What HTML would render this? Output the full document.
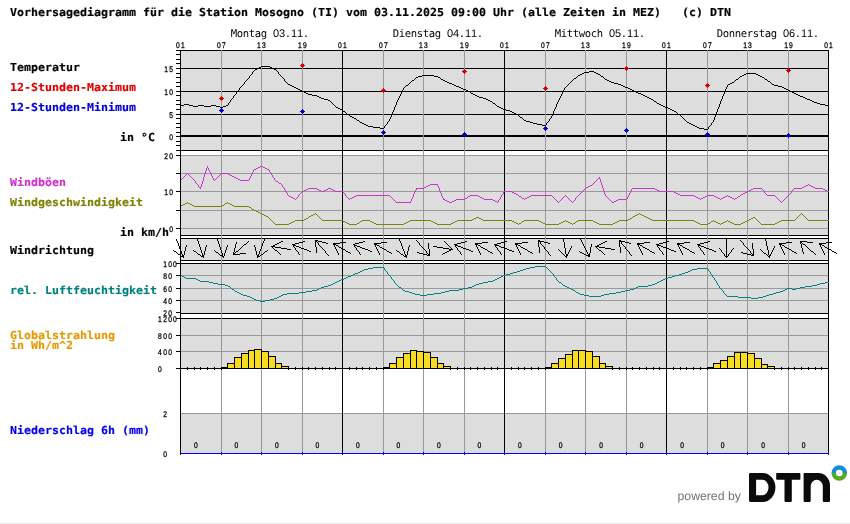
<!DOCTYPE html>
<html lang="de"><head><meta charset="utf-8"><title>Vorhersagediagramm Mosogno (TI)</title>
<style>html,body{margin:0;padding:0;background:#fff}svg{display:block;will-change:transform}</style></head>
<body>
<svg width="850" height="524" viewBox="0 0 850 524" shape-rendering="crispEdges" text-rendering="geometricPrecision">
<rect x="0" y="0" width="850" height="524" fill="#ffffff" />
<rect x="180" y="50" width="649" height="101" fill="#dddddd" />
<rect x="180" y="155" width="649" height="81" fill="#dddddd" />
<rect x="180" y="238" width="649" height="23" fill="#dddddd" />
<rect x="180" y="263" width="649" height="51" fill="#dddddd" />
<rect x="180" y="318" width="649" height="51" fill="#dddddd" />
<rect x="180" y="413" width="649" height="41" fill="#dddddd" />
<rect x="180" y="155" width="649" height="1" fill="#999999" />
<rect x="180" y="173" width="649" height="1" fill="#999999" />
<rect x="180" y="191" width="649" height="1" fill="#999999" />
<rect x="180" y="210" width="649" height="1" fill="#999999" />
<rect x="180" y="228" width="649" height="1" fill="#999999" />
<rect x="180" y="275" width="649" height="1" fill="#999999" />
<rect x="180" y="288" width="649" height="1" fill="#999999" />
<rect x="180" y="300" width="649" height="1" fill="#999999" />
<rect x="180" y="335" width="649" height="1" fill="#999999" />
<rect x="180" y="351" width="649" height="1" fill="#999999" />
<rect x="180" y="413" width="649" height="1" fill="#999999" />
<rect x="176" y="150" width="4" height="1" fill="#000" />
<rect x="176" y="145" width="4" height="1" fill="#000" />
<rect x="176" y="141" width="4" height="1" fill="#000" />
<rect x="176" y="136" width="4" height="1" fill="#000" />
<rect x="176" y="132" width="4" height="1" fill="#000" />
<rect x="176" y="127" width="4" height="1" fill="#000" />
<rect x="176" y="123" width="4" height="1" fill="#000" />
<rect x="176" y="118" width="4" height="1" fill="#000" />
<rect x="176" y="114" width="4" height="1" fill="#000" />
<rect x="176" y="109" width="4" height="1" fill="#000" />
<rect x="176" y="104" width="4" height="1" fill="#000" />
<rect x="176" y="100" width="4" height="1" fill="#000" />
<rect x="176" y="95" width="4" height="1" fill="#000" />
<rect x="176" y="91" width="4" height="1" fill="#000" />
<rect x="176" y="86" width="4" height="1" fill="#000" />
<rect x="176" y="82" width="4" height="1" fill="#000" />
<rect x="176" y="77" width="4" height="1" fill="#000" />
<rect x="176" y="73" width="4" height="1" fill="#000" />
<rect x="176" y="68" width="4" height="1" fill="#000" />
<rect x="176" y="63" width="4" height="1" fill="#000" />
<rect x="176" y="59" width="4" height="1" fill="#000" />
<rect x="176" y="54" width="4" height="1" fill="#000" />
<rect x="176" y="50" width="4" height="1" fill="#000" />
<rect x="176" y="50" width="653" height="1" fill="#000" />
<rect x="176" y="68" width="653" height="1" fill="#000" />
<rect x="176" y="91" width="653" height="1" fill="#000" />
<rect x="176" y="114" width="653" height="1" fill="#000" />
<rect x="180" y="135" width="649" height="2" fill="#000" />
<rect x="176" y="150" width="653" height="1" fill="#000" />
<rect x="176" y="155" width="4" height="1" fill="#000" />
<rect x="176" y="173" width="4" height="1" fill="#000" />
<rect x="176" y="191" width="4" height="1" fill="#000" />
<rect x="176" y="210" width="4" height="1" fill="#000" />
<rect x="176" y="228" width="4" height="1" fill="#000" />
<rect x="180" y="235" width="649" height="1" fill="#000" />
<rect x="180" y="238" width="649" height="1" fill="#000" />
<rect x="180" y="260" width="649" height="1" fill="#000" />
<rect x="176" y="263" width="653" height="1" fill="#000" />
<rect x="176" y="275" width="4" height="1" fill="#000" />
<rect x="176" y="288" width="4" height="1" fill="#000" />
<rect x="176" y="300" width="4" height="1" fill="#000" />
<rect x="176" y="312" width="4" height="1" fill="#000" />
<rect x="180" y="313" width="649" height="1" fill="#000" />
<rect x="176" y="318" width="653" height="1" fill="#000" />
<rect x="176" y="335" width="4" height="1" fill="#000" />
<rect x="176" y="351" width="4" height="1" fill="#000" />
<rect x="221" y="50" width="1" height="404" fill="#999999" />
<rect x="261" y="50" width="1" height="404" fill="#999999" />
<rect x="302" y="50" width="1" height="404" fill="#999999" />
<rect x="383" y="50" width="1" height="404" fill="#999999" />
<rect x="423" y="50" width="1" height="404" fill="#999999" />
<rect x="464" y="50" width="1" height="404" fill="#999999" />
<rect x="545" y="50" width="1" height="404" fill="#999999" />
<rect x="585" y="50" width="1" height="404" fill="#999999" />
<rect x="626" y="50" width="1" height="404" fill="#999999" />
<rect x="707" y="50" width="1" height="404" fill="#999999" />
<rect x="747" y="50" width="1" height="404" fill="#999999" />
<rect x="788" y="50" width="1" height="404" fill="#999999" />
<rect x="180" y="50" width="1" height="404" fill="#000" />
<rect x="342" y="50" width="1" height="404" fill="#000" />
<rect x="504" y="50" width="1" height="404" fill="#000" />
<rect x="666" y="50" width="1" height="404" fill="#000" />
<rect x="828" y="50" width="1" height="404" fill="#000" />
<rect x="221" y="367" width="7" height="2" fill="#000" />
<rect x="227" y="363" width="8" height="6" fill="#000" />
<rect x="228" y="364" width="6" height="4" fill="#f8dc20" />
<rect x="234" y="357" width="8" height="12" fill="#000" />
<rect x="235" y="358" width="6" height="10" fill="#f8dc20" />
<rect x="241" y="353" width="8" height="16" fill="#000" />
<rect x="242" y="354" width="6" height="14" fill="#f8dc20" />
<rect x="248" y="350" width="7" height="19" fill="#000" />
<rect x="249" y="351" width="5" height="17" fill="#f8dc20" />
<rect x="254" y="349" width="8" height="20" fill="#000" />
<rect x="255" y="350" width="6" height="18" fill="#f8dc20" />
<rect x="261" y="351" width="8" height="18" fill="#000" />
<rect x="262" y="352" width="6" height="16" fill="#f8dc20" />
<rect x="268" y="356" width="8" height="13" fill="#000" />
<rect x="269" y="357" width="6" height="11" fill="#f8dc20" />
<rect x="275" y="363" width="7" height="6" fill="#000" />
<rect x="276" y="364" width="5" height="4" fill="#f8dc20" />
<rect x="281" y="366" width="8" height="3" fill="#000" />
<rect x="282" y="367" width="6" height="1" fill="#f8dc20" />
<rect x="383" y="367" width="7" height="2" fill="#000" />
<rect x="389" y="363" width="8" height="6" fill="#000" />
<rect x="390" y="364" width="6" height="4" fill="#f8dc20" />
<rect x="396" y="357" width="8" height="12" fill="#000" />
<rect x="397" y="358" width="6" height="10" fill="#f8dc20" />
<rect x="403" y="353" width="8" height="16" fill="#000" />
<rect x="404" y="354" width="6" height="14" fill="#f8dc20" />
<rect x="410" y="350" width="7" height="19" fill="#000" />
<rect x="411" y="351" width="5" height="17" fill="#f8dc20" />
<rect x="416" y="351" width="8" height="18" fill="#000" />
<rect x="417" y="352" width="6" height="16" fill="#f8dc20" />
<rect x="423" y="352" width="8" height="17" fill="#000" />
<rect x="424" y="353" width="6" height="15" fill="#f8dc20" />
<rect x="430" y="357" width="8" height="12" fill="#000" />
<rect x="431" y="358" width="6" height="10" fill="#f8dc20" />
<rect x="437" y="363" width="7" height="6" fill="#000" />
<rect x="438" y="364" width="5" height="4" fill="#f8dc20" />
<rect x="443" y="366" width="8" height="3" fill="#000" />
<rect x="444" y="367" width="6" height="1" fill="#f8dc20" />
<rect x="545" y="367" width="7" height="2" fill="#000" />
<rect x="551" y="363" width="8" height="6" fill="#000" />
<rect x="552" y="364" width="6" height="4" fill="#f8dc20" />
<rect x="558" y="358" width="8" height="11" fill="#000" />
<rect x="559" y="359" width="6" height="9" fill="#f8dc20" />
<rect x="565" y="354" width="8" height="15" fill="#000" />
<rect x="566" y="355" width="6" height="13" fill="#f8dc20" />
<rect x="572" y="350" width="7" height="19" fill="#000" />
<rect x="573" y="351" width="5" height="17" fill="#f8dc20" />
<rect x="578" y="350" width="8" height="19" fill="#000" />
<rect x="579" y="351" width="6" height="17" fill="#f8dc20" />
<rect x="585" y="351" width="8" height="18" fill="#000" />
<rect x="586" y="352" width="6" height="16" fill="#f8dc20" />
<rect x="592" y="356" width="8" height="13" fill="#000" />
<rect x="593" y="357" width="6" height="11" fill="#f8dc20" />
<rect x="599" y="363" width="7" height="6" fill="#000" />
<rect x="600" y="364" width="5" height="4" fill="#f8dc20" />
<rect x="605" y="366" width="8" height="3" fill="#000" />
<rect x="606" y="367" width="6" height="1" fill="#f8dc20" />
<rect x="707" y="367" width="7" height="2" fill="#000" />
<rect x="713" y="363" width="8" height="6" fill="#000" />
<rect x="714" y="364" width="6" height="4" fill="#f8dc20" />
<rect x="720" y="360" width="8" height="9" fill="#000" />
<rect x="721" y="361" width="6" height="7" fill="#f8dc20" />
<rect x="727" y="356" width="8" height="13" fill="#000" />
<rect x="728" y="357" width="6" height="11" fill="#f8dc20" />
<rect x="734" y="352" width="7" height="17" fill="#000" />
<rect x="735" y="353" width="5" height="15" fill="#f8dc20" />
<rect x="740" y="352" width="8" height="17" fill="#000" />
<rect x="741" y="353" width="6" height="15" fill="#f8dc20" />
<rect x="747" y="353" width="8" height="16" fill="#000" />
<rect x="748" y="354" width="6" height="14" fill="#f8dc20" />
<rect x="754" y="358" width="8" height="11" fill="#000" />
<rect x="755" y="359" width="6" height="9" fill="#f8dc20" />
<rect x="761" y="364" width="7" height="5" fill="#000" />
<rect x="762" y="365" width="5" height="3" fill="#f8dc20" />
<rect x="767" y="366" width="8" height="3" fill="#000" />
<rect x="768" y="367" width="6" height="1" fill="#f8dc20" />
<rect x="176" y="368" width="653" height="1" fill="#000" />
<rect x="180" y="367" width="1" height="3" fill="#000" />
<rect x="187" y="367" width="1" height="3" fill="#000" />
<rect x="194" y="367" width="1" height="3" fill="#000" />
<rect x="200" y="367" width="1" height="3" fill="#000" />
<rect x="207" y="367" width="1" height="3" fill="#000" />
<rect x="214" y="367" width="1" height="3" fill="#000" />
<rect x="221" y="367" width="1" height="3" fill="#000" />
<rect x="288" y="367" width="1" height="3" fill="#000" />
<rect x="295" y="367" width="1" height="3" fill="#000" />
<rect x="302" y="367" width="1" height="3" fill="#000" />
<rect x="308" y="367" width="1" height="3" fill="#000" />
<rect x="315" y="367" width="1" height="3" fill="#000" />
<rect x="322" y="367" width="1" height="3" fill="#000" />
<rect x="329" y="367" width="1" height="3" fill="#000" />
<rect x="335" y="367" width="1" height="3" fill="#000" />
<rect x="342" y="367" width="1" height="3" fill="#000" />
<rect x="349" y="367" width="1" height="3" fill="#000" />
<rect x="356" y="367" width="1" height="3" fill="#000" />
<rect x="362" y="367" width="1" height="3" fill="#000" />
<rect x="369" y="367" width="1" height="3" fill="#000" />
<rect x="376" y="367" width="1" height="3" fill="#000" />
<rect x="383" y="367" width="1" height="3" fill="#000" />
<rect x="450" y="367" width="1" height="3" fill="#000" />
<rect x="457" y="367" width="1" height="3" fill="#000" />
<rect x="464" y="367" width="1" height="3" fill="#000" />
<rect x="470" y="367" width="1" height="3" fill="#000" />
<rect x="477" y="367" width="1" height="3" fill="#000" />
<rect x="484" y="367" width="1" height="3" fill="#000" />
<rect x="491" y="367" width="1" height="3" fill="#000" />
<rect x="497" y="367" width="1" height="3" fill="#000" />
<rect x="504" y="367" width="1" height="3" fill="#000" />
<rect x="511" y="367" width="1" height="3" fill="#000" />
<rect x="518" y="367" width="1" height="3" fill="#000" />
<rect x="524" y="367" width="1" height="3" fill="#000" />
<rect x="531" y="367" width="1" height="3" fill="#000" />
<rect x="538" y="367" width="1" height="3" fill="#000" />
<rect x="545" y="367" width="1" height="3" fill="#000" />
<rect x="612" y="367" width="1" height="3" fill="#000" />
<rect x="619" y="367" width="1" height="3" fill="#000" />
<rect x="626" y="367" width="1" height="3" fill="#000" />
<rect x="632" y="367" width="1" height="3" fill="#000" />
<rect x="639" y="367" width="1" height="3" fill="#000" />
<rect x="646" y="367" width="1" height="3" fill="#000" />
<rect x="653" y="367" width="1" height="3" fill="#000" />
<rect x="659" y="367" width="1" height="3" fill="#000" />
<rect x="666" y="367" width="1" height="3" fill="#000" />
<rect x="673" y="367" width="1" height="3" fill="#000" />
<rect x="680" y="367" width="1" height="3" fill="#000" />
<rect x="686" y="367" width="1" height="3" fill="#000" />
<rect x="693" y="367" width="1" height="3" fill="#000" />
<rect x="700" y="367" width="1" height="3" fill="#000" />
<rect x="707" y="367" width="1" height="3" fill="#000" />
<rect x="774" y="367" width="1" height="3" fill="#000" />
<rect x="781" y="367" width="1" height="3" fill="#000" />
<rect x="788" y="367" width="1" height="3" fill="#000" />
<rect x="794" y="367" width="1" height="3" fill="#000" />
<rect x="801" y="367" width="1" height="3" fill="#000" />
<rect x="808" y="367" width="1" height="3" fill="#000" />
<rect x="815" y="367" width="1" height="3" fill="#000" />
<rect x="821" y="367" width="1" height="3" fill="#000" />
<rect x="828" y="367" width="1" height="3" fill="#000" />
<rect x="180" y="453" width="649" height="1" fill="#0000ff" />
<rect x="180" y="452" width="1" height="3" fill="#0000ff" />
<rect x="221" y="452" width="1" height="3" fill="#0000ff" />
<rect x="261" y="452" width="1" height="3" fill="#0000ff" />
<rect x="302" y="452" width="1" height="3" fill="#0000ff" />
<rect x="342" y="452" width="1" height="3" fill="#0000ff" />
<rect x="383" y="452" width="1" height="3" fill="#0000ff" />
<rect x="423" y="452" width="1" height="3" fill="#0000ff" />
<rect x="464" y="452" width="1" height="3" fill="#0000ff" />
<rect x="504" y="452" width="1" height="3" fill="#0000ff" />
<rect x="545" y="452" width="1" height="3" fill="#0000ff" />
<rect x="585" y="452" width="1" height="3" fill="#0000ff" />
<rect x="626" y="452" width="1" height="3" fill="#0000ff" />
<rect x="666" y="452" width="1" height="3" fill="#0000ff" />
<rect x="707" y="452" width="1" height="3" fill="#0000ff" />
<rect x="747" y="452" width="1" height="3" fill="#0000ff" />
<rect x="788" y="452" width="1" height="3" fill="#0000ff" />
<rect x="828" y="452" width="1" height="3" fill="#0000ff" />
<path d="M261,66.5h9M259,67.5h2M270,67.5h2M257,68.5h2M272,68.5h2M255,69.5h2M274,69.5h2M589,71.5h5M584,72.5h5M594,72.5h2M582,73.5h2M596,73.5h2M746,73.5h10M580,74.5h2M598,74.5h2M744,74.5h2M756,74.5h2M422,75.5h12M578,75.5h2M742,75.5h2M758,75.5h2M418,76.5h4M434,76.5h4M601,76.5h2M740,76.5h2M760,76.5h2M416,77.5h2M438,77.5h2M762,77.5h2M574,78.5h2M441,79.5h2M605,79.5h2M736,79.5h2M765,79.5h2M412,80.5h2M443,80.5h2M607,80.5h2M445,81.5h2M609,81.5h2M768,81.5h2M447,82.5h2M611,82.5h3M732,82.5h2M449,83.5h3M614,83.5h4M730,83.5h2M288,84.5h2M452,84.5h2M618,84.5h3M728,84.5h2M772,84.5h2M290,85.5h2M406,85.5h2M454,85.5h2M621,85.5h2M774,85.5h4M292,86.5h2M456,86.5h3M623,86.5h2M778,86.5h4M294,87.5h2M459,87.5h2M625,87.5h3M782,87.5h2M296,88.5h2M461,88.5h2M628,88.5h2M784,88.5h2M298,89.5h2M463,89.5h3M630,89.5h2M786,89.5h2M300,90.5h2M466,90.5h2M632,90.5h2M788,90.5h2M302,91.5h2M468,91.5h2M634,91.5h2M790,91.5h2M304,92.5h2M636,92.5h2M792,92.5h2M306,93.5h2M471,93.5h2M638,93.5h3M794,93.5h2M308,94.5h4M473,94.5h2M641,94.5h2M796,94.5h2M312,95.5h5M475,95.5h2M643,95.5h2M798,95.5h2M317,96.5h2M477,96.5h2M645,96.5h2M800,96.5h3M319,97.5h2M479,97.5h4M647,97.5h2M803,97.5h2M321,98.5h3M483,98.5h3M649,98.5h2M805,98.5h2M324,99.5h4M486,99.5h2M651,99.5h2M807,99.5h3M328,100.5h2M488,100.5h2M810,100.5h2M490,101.5h2M654,101.5h2M812,101.5h2M814,102.5h3M493,103.5h2M657,103.5h2M817,103.5h3M184,104.5h5M659,104.5h2M820,104.5h5M180,105.5h4M189,105.5h4M198,105.5h6M211,105.5h5M226,105.5h2M661,105.5h2M825,105.5h4M193,106.5h5M204,106.5h7M216,106.5h4M223,106.5h3M497,106.5h2M663,106.5h2M220,107.5h3M336,107.5h2M499,107.5h2M665,107.5h3M338,108.5h2M501,108.5h2M668,108.5h2M340,109.5h2M503,109.5h3M670,109.5h2M506,110.5h4M672,110.5h2M343,111.5h2M510,111.5h2M674,111.5h2M512,112.5h2M514,113.5h2M347,114.5h2M516,114.5h2M678,114.5h2M350,116.5h2M352,117.5h2M520,117.5h2M354,118.5h2M357,120.5h2M524,120.5h2M526,121.5h4M360,122.5h2M530,122.5h3M687,122.5h2M362,123.5h2M533,123.5h4M689,123.5h2M364,124.5h2M537,124.5h5M691,124.5h2M366,125.5h2M542,125.5h4M693,125.5h2M368,126.5h5M695,126.5h2M373,127.5h7M697,127.5h2M380,128.5h4M699,128.5h5M704,129.5h4M228.5,103v2M229.5,102v1M230.5,100v2M231.5,99v1M232.5,98v1M233.5,96v2M234.5,95v1M235.5,94v1M236.5,92v2M237.5,91v1M238.5,90v1M239.5,88v2M240.5,87v1M241.5,86v1M242.5,85v1M243.5,84v1M244.5,82v2M245.5,81v1M246.5,80v1M247.5,79v1M248.5,78v1M249.5,76v2M250.5,75v1M251.5,74v1M252.5,72v2M253.5,71v1M254.5,70v1M276.5,70v1M277.5,71v1M278.5,72v2M279.5,74v1M280.5,75v1M281.5,76v1M282.5,77v1M283.5,78v1M284.5,79v2M285.5,81v1M286.5,82v1M287.5,83v1M330.5,101v1M331.5,102v1M332.5,103v1M333.5,104v1M334.5,105v1M335.5,106v1M342.5,110v1M345.5,112v1M346.5,113v1M349.5,115v1M356.5,119v1M359.5,121v1M384.5,126v2M385.5,125v1M386.5,124v1M387.5,122v2M388.5,121v1M389.5,119v2M390.5,117v2M391.5,114v3M392.5,112v2M393.5,110v2M394.5,107v3M395.5,105v2M396.5,102v3M397.5,100v2M398.5,98v2M399.5,96v2M400.5,94v2M401.5,92v2M402.5,90v2M403.5,88v2M404.5,87v1M405.5,86v1M408.5,84v1M409.5,83v1M410.5,82v1M411.5,81v1M414.5,79v1M415.5,78v1M440.5,78v1M470.5,92v1M492.5,102v1M495.5,104v1M496.5,105v1M518.5,115v1M519.5,116v1M522.5,118v1M523.5,119v1M546.5,123v2M547.5,122v1M548.5,121v1M549.5,119v2M550.5,118v1M551.5,116v2M552.5,114v2M553.5,111v3M554.5,109v2M555.5,107v2M556.5,104v3M557.5,102v2M558.5,100v2M559.5,98v2M560.5,96v2M561.5,94v2M562.5,92v2M563.5,90v2M564.5,88v2M565.5,87v1M566.5,86v1M567.5,85v1M568.5,84v1M569.5,83v1M570.5,82v1M571.5,81v1M572.5,80v1M573.5,79v1M576.5,77v1M577.5,76v1M600.5,75v1M603.5,77v1M604.5,78v1M653.5,100v1M656.5,102v1M676.5,112v1M677.5,113v1M680.5,115v1M681.5,116v1M682.5,117v1M683.5,118v1M684.5,119v1M685.5,120v1M686.5,121v1M708.5,127v2M709.5,126v1M710.5,125v1M711.5,123v2M712.5,122v1M713.5,120v2M714.5,117v3M715.5,115v2M716.5,112v3M717.5,109v3M718.5,107v2M719.5,104v3M720.5,101v3M721.5,99v2M722.5,96v3M723.5,94v2M724.5,92v2M725.5,89v3M726.5,87v2M727.5,85v2M734.5,81v1M735.5,80v1M738.5,78v1M739.5,77v1M764.5,78v1M767.5,80v1M770.5,82v1M771.5,83v1" stroke="#000" stroke-width="1" fill="none"/>
<path d="M260,166.5h3M258,167.5h2M263,167.5h2M256,168.5h2M265,168.5h2M254,169.5h2M267,169.5h2M221,173.5h7M228,174.5h2M230,175.5h2M232,176.5h2M234,177.5h2M236,178.5h2M598,178.5h2M238,179.5h2M240,180.5h9M276,181.5h2M279,183.5h2M430,184.5h8M428,185.5h2M590,185.5h2M806,185.5h2M809,185.5h2M426,186.5h2M588,186.5h2M804,186.5h2M811,186.5h2M199,187.5h2M424,187.5h2M586,187.5h2M802,187.5h2M813,187.5h2M308,188.5h9M328,188.5h3M416,188.5h8M632,188.5h23M753,188.5h9M794,188.5h8M815,188.5h8M306,189.5h2M317,189.5h2M326,189.5h2M331,189.5h2M655,189.5h2M751,189.5h2M823,189.5h2M304,190.5h2M319,190.5h2M324,190.5h2M333,190.5h2M657,190.5h2M749,190.5h2M825,190.5h2M302,191.5h2M321,191.5h3M335,191.5h8M504,191.5h8M659,191.5h15M747,191.5h2M827,191.5h2M512,192.5h2M674,192.5h2M745,192.5h2M514,193.5h2M676,193.5h2M743,193.5h2M516,194.5h2M678,194.5h2M741,194.5h2M356,195.5h34M470,195.5h8M531,195.5h21M680,195.5h14M707,195.5h7M767,195.5h8M289,196.5h2M354,196.5h2M468,196.5h2M478,196.5h2M519,196.5h2M529,196.5h2M694,196.5h2M705,196.5h2M714,196.5h2M725,196.5h2M728,196.5h2M738,196.5h2M291,197.5h2M352,197.5h2M480,197.5h2M527,197.5h2M696,197.5h2M703,197.5h2M716,197.5h2M723,197.5h2M730,197.5h2M293,198.5h2M350,198.5h2M465,198.5h2M482,198.5h2M522,198.5h2M525,198.5h2M698,198.5h2M701,198.5h2M718,198.5h2M721,198.5h2M732,198.5h2M735,198.5h2M443,199.5h2M456,199.5h9M484,199.5h9M618,199.5h9M445,200.5h2M454,200.5h2M493,200.5h2M616,200.5h2M447,201.5h2M452,201.5h2M495,201.5h2M614,201.5h2M396,202.5h15M449,202.5h3M612,202.5h2M180.5,180v1M181.5,179v1M182.5,178v1M183.5,177v1M184.5,176v1M185.5,175v1M186.5,174v1M187.5,173v1M188.5,174v1M189.5,175v1M190.5,176v1M191.5,177v1M192.5,178v1M193.5,179v1M194.5,180v1M195.5,181v2M196.5,183v1M197.5,184v1M198.5,185v2M200.5,188v1M201.5,184v3M202.5,181v3M203.5,177v4M204.5,174v3M205.5,171v3M206.5,168v3M207.5,166v2M208.5,168v2M209.5,170v2M210.5,172v2M211.5,174v2M212.5,176v2M213.5,178v2M214.5,180v1M215.5,179v1M216.5,178v1M217.5,177v1M218.5,176v1M219.5,175v1M220.5,174v1M249.5,178v2M250.5,176v2M251.5,174v2M252.5,172v2M253.5,170v2M269.5,170v2M270.5,172v1M271.5,173v2M272.5,175v2M273.5,177v1M274.5,178v2M275.5,180v1M278.5,182v1M281.5,184v1M282.5,185v2M283.5,187v1M284.5,188v2M285.5,190v2M286.5,192v1M287.5,193v2M288.5,195v1M295.5,199v1M296.5,198v1M297.5,197v1M298.5,195v2M299.5,194v1M300.5,193v1M301.5,192v1M343.5,192v1M344.5,193v1M345.5,194v2M346.5,196v1M347.5,197v1M348.5,198v1M349.5,199v1M390.5,196v1M391.5,197v1M392.5,198v1M393.5,199v1M394.5,200v1M395.5,201v1M410.5,201v1M411.5,199v2M412.5,197v2M413.5,194v3M414.5,192v2M415.5,190v2M416.5,189v1M437.5,185v1M438.5,186v2M439.5,188v3M440.5,191v2M441.5,193v3M442.5,196v2M443.5,198v1M467.5,197v1M497.5,202v1M498.5,200v2M499.5,199v1M500.5,197v2M501.5,195v2M502.5,194v1M503.5,192v2M518.5,195v1M521.5,197v1M524.5,199v1M552.5,196v1M553.5,197v1M554.5,198v1M555.5,199v1M556.5,200v1M557.5,201v1M558.5,202v1M559.5,201v1M560.5,200v1M561.5,199v1M562.5,198v1M563.5,197v1M564.5,196v1M565.5,195v1M566.5,196v1M567.5,197v1M568.5,198v1M569.5,199v1M570.5,200v1M571.5,201v1M572.5,202v1M573.5,201v1M574.5,200v1M575.5,198v2M576.5,197v1M577.5,196v1M578.5,195v1M579.5,194v1M580.5,193v1M581.5,192v1M582.5,191v1M583.5,190v1M584.5,189v1M585.5,188v1M592.5,184v1M593.5,183v1M594.5,182v1M595.5,181v1M596.5,180v1M597.5,179v1M599.5,177v1M600.5,179v3M601.5,182v3M602.5,185v3M603.5,188v3M604.5,191v3M605.5,194v2M606.5,196v1M607.5,197v1M608.5,198v1M609.5,199v1M610.5,200v1M611.5,201v1M627.5,197v2M628.5,195v2M629.5,193v2M630.5,191v2M631.5,189v2M700.5,199v1M720.5,199v1M727.5,195v1M734.5,199v1M737.5,197v1M740.5,195v1M762.5,189v1M763.5,190v1M764.5,191v2M765.5,193v1M766.5,194v1M775.5,196v1M776.5,197v1M777.5,198v1M778.5,199v1M779.5,200v1M780.5,201v1M781.5,202v1M782.5,201v1M783.5,200v1M784.5,199v1M785.5,198v1M786.5,197v1M787.5,196v1M788.5,195v1M789.5,194v1M790.5,193v1M791.5,191v2M792.5,190v1M793.5,189v1M808.5,184v1" stroke="#cc33cc" stroke-width="1" fill="none"/>
<path d="M185,203.5h2M188,203.5h2M225,203.5h2M228,203.5h2M183,204.5h2M190,204.5h2M230,204.5h2M181,205.5h2M192,205.5h2M222,205.5h2M232,205.5h2M194,206.5h28M234,206.5h15M249,207.5h2M252,209.5h2M254,210.5h2M256,211.5h2M258,212.5h2M260,213.5h2M262,214.5h2M313,214.5h2M637,214.5h2M640,214.5h2M264,215.5h2M311,215.5h2M635,215.5h2M642,215.5h2M266,216.5h2M309,216.5h2M633,216.5h2M644,216.5h2M476,217.5h3M646,217.5h2M753,217.5h2M306,218.5h2M474,218.5h2M479,218.5h2M630,218.5h2M648,218.5h2M751,218.5h2M304,219.5h2M472,219.5h2M481,219.5h2M628,219.5h2M650,219.5h2M749,219.5h2M295,220.5h9M322,220.5h21M362,220.5h8M410,220.5h21M457,220.5h15M483,220.5h29M524,220.5h15M578,220.5h15M619,220.5h9M652,220.5h42M747,220.5h2M781,220.5h14M808,220.5h21M293,221.5h2M343,221.5h2M360,221.5h2M370,221.5h2M408,221.5h2M431,221.5h2M455,221.5h2M512,221.5h2M522,221.5h2M539,221.5h2M563,221.5h2M566,221.5h2M576,221.5h2M593,221.5h2M617,221.5h2M694,221.5h2M711,221.5h2M714,221.5h2M725,221.5h2M728,221.5h2M745,221.5h2M779,221.5h2M291,222.5h2M345,222.5h2M372,222.5h2M406,222.5h2M433,222.5h2M453,222.5h2M514,222.5h2M541,222.5h2M561,222.5h2M568,222.5h2M595,222.5h2M615,222.5h2M696,222.5h2M716,222.5h2M723,222.5h2M730,222.5h2M743,222.5h2M777,222.5h2M289,223.5h2M347,223.5h2M357,223.5h2M374,223.5h2M404,223.5h2M435,223.5h2M451,223.5h2M516,223.5h2M519,223.5h2M543,223.5h2M559,223.5h2M570,223.5h2M573,223.5h2M597,223.5h2M613,223.5h2M698,223.5h2M708,223.5h2M718,223.5h2M721,223.5h2M732,223.5h2M741,223.5h2M775,223.5h2M275,224.5h14M349,224.5h8M376,224.5h28M437,224.5h14M545,224.5h14M599,224.5h14M700,224.5h8M734,224.5h7M761,224.5h14M180.5,206v1M187.5,202v1M224.5,204v1M227.5,202v1M251.5,208v1M268.5,217v1M269.5,218v1M270.5,219v1M271.5,220v1M272.5,221v1M273.5,222v1M274.5,223v1M308.5,217v1M315.5,213v1M316.5,214v1M317.5,215v1M318.5,216v1M319.5,217v1M320.5,218v1M321.5,219v1M359.5,222v1M518.5,224v1M521.5,222v1M565.5,220v1M572.5,224v1M575.5,222v1M632.5,217v1M639.5,213v1M710.5,222v1M713.5,220v1M720.5,224v1M727.5,220v1M755.5,218v1M756.5,219v1M757.5,220v1M758.5,221v1M759.5,222v1M760.5,223v1M795.5,219v1M796.5,218v1M797.5,217v1M798.5,216v1M799.5,215v1M800.5,214v1M801.5,213v1M802.5,214v1M803.5,215v1M804.5,216v1M805.5,217v1M806.5,218v1M807.5,219v1" stroke="#808000" stroke-width="1" fill="none"/>
<path d="M535,266.5h11M373,267.5h11M530,267.5h5M368,268.5h5M526,268.5h4M697,268.5h11M364,269.5h4M523,269.5h3M692,269.5h5M362,270.5h2M520,270.5h3M690,270.5h2M360,271.5h2M517,271.5h3M688,271.5h2M358,272.5h2M513,272.5h4M685,272.5h3M355,273.5h3M510,273.5h3M682,273.5h3M353,274.5h2M506,274.5h4M679,274.5h3M180,275.5h2M351,275.5h2M503,275.5h3M675,275.5h4M182,276.5h2M348,276.5h3M501,276.5h2M672,276.5h3M184,277.5h2M346,277.5h2M499,277.5h2M668,277.5h4M186,278.5h10M344,278.5h2M497,278.5h2M665,278.5h3M196,279.5h2M341,279.5h3M495,279.5h2M663,279.5h2M198,280.5h2M339,280.5h2M493,280.5h2M661,280.5h2M200,281.5h9M337,281.5h2M488,281.5h5M659,281.5h2M209,282.5h4M335,282.5h2M483,282.5h5M559,282.5h2M657,282.5h2M825,282.5h4M213,283.5h5M333,283.5h2M479,283.5h4M655,283.5h2M820,283.5h5M218,284.5h7M331,284.5h2M476,284.5h3M652,284.5h3M817,284.5h3M225,285.5h3M328,285.5h3M474,285.5h2M563,285.5h2M648,285.5h4M812,285.5h5M228,286.5h2M324,286.5h4M472,286.5h2M565,286.5h2M638,286.5h10M805,286.5h7M321,287.5h3M399,287.5h2M468,287.5h4M567,287.5h2M636,287.5h2M800,287.5h5M319,288.5h2M463,288.5h5M569,288.5h2M634,288.5h2M787,288.5h5M796,288.5h4M232,289.5h2M317,289.5h2M459,289.5h4M571,289.5h2M630,289.5h4M785,289.5h2M792,289.5h4M312,290.5h5M403,290.5h2M449,290.5h10M573,290.5h2M625,290.5h5M783,290.5h2M235,291.5h2M306,291.5h6M405,291.5h4M445,291.5h4M621,291.5h4M780,291.5h3M237,292.5h2M299,292.5h7M409,292.5h3M441,292.5h4M576,292.5h2M616,292.5h5M776,292.5h4M239,293.5h2M287,293.5h12M412,293.5h3M434,293.5h7M578,293.5h2M609,293.5h7M773,293.5h3M241,294.5h2M283,294.5h4M415,294.5h5M427,294.5h7M580,294.5h4M604,294.5h5M769,294.5h4M243,295.5h4M281,295.5h2M420,295.5h7M584,295.5h5M601,295.5h3M766,295.5h3M247,296.5h3M279,296.5h2M589,296.5h12M727,296.5h11M763,296.5h3M250,297.5h2M277,297.5h2M738,297.5h13M758,297.5h5M252,298.5h2M274,298.5h3M751,298.5h7M254,299.5h2M270,299.5h4M256,300.5h4M265,300.5h5M260,301.5h5M230.5,287v1M231.5,288v1M234.5,290v1M384.5,268v2M385.5,270v1M386.5,271v1M387.5,272v2M388.5,274v1M389.5,275v1M390.5,276v1M391.5,277v2M392.5,279v1M393.5,280v1M394.5,281v2M395.5,283v1M396.5,284v1M397.5,285v1M398.5,286v1M401.5,288v1M402.5,289v1M546.5,267v1M547.5,268v1M548.5,269v1M549.5,270v1M550.5,271v1M551.5,272v1M552.5,273v1M553.5,274v2M554.5,276v1M555.5,277v1M556.5,278v2M557.5,280v1M558.5,281v1M561.5,283v1M562.5,284v1M575.5,291v1M708.5,269v2M709.5,271v1M710.5,272v2M711.5,274v1M712.5,275v2M713.5,277v1M714.5,278v2M715.5,280v1M716.5,281v2M717.5,283v2M718.5,285v1M719.5,286v2M720.5,288v1M721.5,289v1M722.5,290v1M723.5,291v2M724.5,293v1M725.5,294v1M726.5,295v1" stroke="#008080" stroke-width="1" fill="none"/>
<rect x="221" y="96" width="1" height="1" fill="#dd0000" />
<rect x="220" y="97" width="3" height="1" fill="#dd0000" />
<rect x="219" y="98" width="5" height="1" fill="#dd0000" />
<rect x="220" y="99" width="3" height="1" fill="#dd0000" />
<rect x="221" y="100" width="1" height="1" fill="#dd0000" />
<rect x="302" y="63" width="1" height="1" fill="#dd0000" />
<rect x="301" y="64" width="3" height="1" fill="#dd0000" />
<rect x="300" y="65" width="5" height="1" fill="#dd0000" />
<rect x="301" y="66" width="3" height="1" fill="#dd0000" />
<rect x="302" y="67" width="1" height="1" fill="#dd0000" />
<rect x="383" y="88" width="1" height="1" fill="#dd0000" />
<rect x="382" y="89" width="3" height="1" fill="#dd0000" />
<rect x="381" y="90" width="5" height="1" fill="#dd0000" />
<rect x="382" y="91" width="3" height="1" fill="#dd0000" />
<rect x="383" y="92" width="1" height="1" fill="#dd0000" />
<rect x="464" y="69" width="1" height="1" fill="#dd0000" />
<rect x="463" y="70" width="3" height="1" fill="#dd0000" />
<rect x="462" y="71" width="5" height="1" fill="#dd0000" />
<rect x="463" y="72" width="3" height="1" fill="#dd0000" />
<rect x="464" y="73" width="1" height="1" fill="#dd0000" />
<rect x="545" y="86" width="1" height="1" fill="#dd0000" />
<rect x="544" y="87" width="3" height="1" fill="#dd0000" />
<rect x="543" y="88" width="5" height="1" fill="#dd0000" />
<rect x="544" y="89" width="3" height="1" fill="#dd0000" />
<rect x="545" y="90" width="1" height="1" fill="#dd0000" />
<rect x="626" y="66" width="1" height="1" fill="#dd0000" />
<rect x="625" y="67" width="3" height="1" fill="#dd0000" />
<rect x="624" y="68" width="5" height="1" fill="#dd0000" />
<rect x="625" y="69" width="3" height="1" fill="#dd0000" />
<rect x="626" y="70" width="1" height="1" fill="#dd0000" />
<rect x="707" y="83" width="1" height="1" fill="#dd0000" />
<rect x="706" y="84" width="3" height="1" fill="#dd0000" />
<rect x="705" y="85" width="5" height="1" fill="#dd0000" />
<rect x="706" y="86" width="3" height="1" fill="#dd0000" />
<rect x="707" y="87" width="1" height="1" fill="#dd0000" />
<rect x="788" y="68" width="1" height="1" fill="#dd0000" />
<rect x="787" y="69" width="3" height="1" fill="#dd0000" />
<rect x="786" y="70" width="5" height="1" fill="#dd0000" />
<rect x="787" y="71" width="3" height="1" fill="#dd0000" />
<rect x="788" y="72" width="1" height="1" fill="#dd0000" />
<rect x="221" y="108" width="1" height="1" fill="#0000d8" />
<rect x="220" y="109" width="3" height="1" fill="#0000d8" />
<rect x="219" y="110" width="5" height="1" fill="#0000d8" />
<rect x="220" y="111" width="3" height="1" fill="#0000d8" />
<rect x="221" y="112" width="1" height="1" fill="#0000d8" />
<rect x="302" y="109" width="1" height="1" fill="#0000d8" />
<rect x="301" y="110" width="3" height="1" fill="#0000d8" />
<rect x="300" y="111" width="5" height="1" fill="#0000d8" />
<rect x="301" y="112" width="3" height="1" fill="#0000d8" />
<rect x="302" y="113" width="1" height="1" fill="#0000d8" />
<rect x="383" y="130" width="1" height="1" fill="#0000d8" />
<rect x="382" y="131" width="3" height="1" fill="#0000d8" />
<rect x="381" y="132" width="5" height="1" fill="#0000d8" />
<rect x="382" y="133" width="3" height="1" fill="#0000d8" />
<rect x="383" y="134" width="1" height="1" fill="#0000d8" />
<rect x="464" y="132" width="1" height="1" fill="#0000d8" />
<rect x="463" y="133" width="3" height="1" fill="#0000d8" />
<rect x="462" y="134" width="5" height="1" fill="#0000d8" />
<rect x="463" y="135" width="3" height="1" fill="#0000d8" />
<rect x="464" y="136" width="1" height="1" fill="#0000d8" />
<rect x="545" y="126" width="1" height="1" fill="#0000d8" />
<rect x="544" y="127" width="3" height="1" fill="#0000d8" />
<rect x="543" y="128" width="5" height="1" fill="#0000d8" />
<rect x="544" y="129" width="3" height="1" fill="#0000d8" />
<rect x="545" y="130" width="1" height="1" fill="#0000d8" />
<rect x="626" y="128" width="1" height="1" fill="#0000d8" />
<rect x="625" y="129" width="3" height="1" fill="#0000d8" />
<rect x="624" y="130" width="5" height="1" fill="#0000d8" />
<rect x="625" y="131" width="3" height="1" fill="#0000d8" />
<rect x="626" y="132" width="1" height="1" fill="#0000d8" />
<rect x="707" y="132" width="1" height="1" fill="#0000d8" />
<rect x="706" y="133" width="3" height="1" fill="#0000d8" />
<rect x="705" y="134" width="5" height="1" fill="#0000d8" />
<rect x="706" y="135" width="3" height="1" fill="#0000d8" />
<rect x="707" y="136" width="1" height="1" fill="#0000d8" />
<rect x="788" y="133" width="1" height="1" fill="#0000d8" />
<rect x="787" y="134" width="3" height="1" fill="#0000d8" />
<rect x="786" y="135" width="5" height="1" fill="#0000d8" />
<rect x="787" y="136" width="3" height="1" fill="#0000d8" />
<rect x="788" y="137" width="1" height="1" fill="#0000d8" />
<path d="M315,240.5h3M538,240.5h2M619,240.5h2M281,241.5h2M303,241.5h2M315,241.5h2M318,241.5h4M363,241.5h2M465,241.5h2M505,241.5h2M538,241.5h6M605,241.5h2M619,241.5h6M667,241.5h2M708,241.5h2M800,241.5h7M279,242.5h2M299,242.5h4M322,242.5h4M340,242.5h6M359,242.5h4M381,242.5h6M461,242.5h4M482,242.5h6M501,242.5h4M522,242.5h6M544,242.5h4M603,242.5h2M625,242.5h4M644,242.5h6M663,242.5h4M684,242.5h6M704,242.5h4M786,242.5h6M800,242.5h2M807,242.5h6M826,242.5h6M277,243.5h2M295,243.5h4M326,243.5h2M333,243.5h7M355,243.5h4M374,243.5h7M457,243.5h4M475,243.5h7M497,243.5h4M515,243.5h7M548,243.5h2M601,243.5h2M629,243.5h2M637,243.5h7M659,243.5h4M677,243.5h7M700,243.5h4M779,243.5h7M819,243.5h7M244,244.5h2M275,244.5h2M292,244.5h3M333,244.5h3M353,244.5h2M374,244.5h3M454,244.5h3M475,244.5h3M494,244.5h3M515,244.5h3M599,244.5h2M637,244.5h3M656,244.5h3M677,244.5h3M697,244.5h3M779,244.5h3M803,244.5h2M819,244.5h3M273,245.5h2M293,245.5h3M336,245.5h2M354,245.5h3M377,245.5h2M455,245.5h3M478,245.5h2M495,245.5h4M518,245.5h2M597,245.5h2M640,245.5h2M657,245.5h4M680,245.5h2M698,245.5h3M782,245.5h2M822,245.5h2M271,246.5h4M296,246.5h3M357,246.5h3M433,246.5h4M458,246.5h3M499,246.5h2M595,246.5h4M661,246.5h2M701,246.5h3M275,247.5h6M299,247.5h2M339,247.5h2M360,247.5h2M380,247.5h2M437,247.5h6M461,247.5h2M481,247.5h2M501,247.5h3M521,247.5h2M599,247.5h6M643,247.5h2M663,247.5h3M683,247.5h2M704,247.5h2M785,247.5h2M825,247.5h2M281,248.5h6M301,248.5h3M341,248.5h2M362,248.5h3M382,248.5h2M443,248.5h6M463,248.5h3M483,248.5h2M504,248.5h3M523,248.5h2M605,248.5h6M645,248.5h2M666,248.5h3M685,248.5h2M706,248.5h3M787,248.5h2M827,248.5h2M287,249.5h4M304,249.5h3M343,249.5h2M365,249.5h3M384,249.5h2M449,249.5h4M466,249.5h3M485,249.5h2M507,249.5h2M525,249.5h2M611,249.5h4M647,249.5h2M669,249.5h2M687,249.5h2M709,249.5h3M789,249.5h2M829,249.5h2M275,250.5h2M307,250.5h2M368,250.5h2M449,250.5h2M469,250.5h2M509,250.5h3M599,250.5h2M671,250.5h3M712,250.5h2M174,251.5h2M194,251.5h2M236,251.5h2M265,251.5h2M309,251.5h2M346,251.5h2M370,251.5h2M387,251.5h2M397,251.5h2M447,251.5h2M471,251.5h2M488,251.5h2M512,251.5h2M528,251.5h2M650,251.5h2M674,251.5h2M690,251.5h2M714,251.5h2M792,251.5h2M811,251.5h2M832,251.5h2M216,252.5h2M348,252.5h2M389,252.5h2M417,252.5h2M445,252.5h2M490,252.5h2M530,252.5h2M580,252.5h2M652,252.5h2M692,252.5h2M741,252.5h2M794,252.5h2M834,252.5h2M233,253.5h2M240,253.5h6M419,253.5h4M443,253.5h2M582,253.5h2M743,253.5h4M764,253.5h2M178,254.5h2M198,254.5h2M233,254.5h7M261,254.5h2M401,254.5h2M423,254.5h4M428,254.5h2M566,254.5h2M584,254.5h2M588,254.5h2M747,254.5h4M752,254.5h2M182,255.5h2M202,255.5h2M220,255.5h3M257,255.5h2M405,255.5h2M427,255.5h3M566,255.5h2M586,255.5h4M751,255.5h3M769,255.5h2M181,256.5h3M201,256.5h3M222,256.5h2M257,256.5h3M404,256.5h3M565,256.5h2M588,256.5h2M725,256.5h3M768,256.5h2M173.5,250v1M176.5,239v2M176.5,252v1M177.5,241v2M177.5,253v1M178.5,243v3M179.5,246v3M180.5,249v2M180.5,255v1M181.5,251v3M182.5,254v1M183.5,257v1M184.5,251v4M185.5,247v4M186.5,245v2M193.5,250v1M196.5,252v1M197.5,239v2M197.5,253v1M198.5,241v3M199.5,244v3M200.5,247v3M200.5,255v1M201.5,250v3M202.5,253v2M203.5,257v1M204.5,251v4M205.5,247v4M206.5,245v2M214.5,250v1M215.5,251v1M217.5,239v2M218.5,241v3M218.5,253v1M219.5,244v3M219.5,254v1M220.5,247v3M221.5,250v3M222.5,253v2M223.5,257v1M224.5,253v3M225.5,250v3M226.5,247v3M227.5,245v2M233.5,252v1M234.5,248v4M235.5,244v4M235.5,252v1M236.5,242v2M238.5,250v1M239.5,249v1M240.5,248v1M241.5,247v1M242.5,246v1M243.5,245v1M246.5,243v1M247.5,242v1M248.5,241v1M254.5,245v2M255.5,247v4M256.5,251v4M257.5,257v1M258.5,254v1M259.5,251v3M260.5,249v2M260.5,255v1M261.5,246v3M262.5,243v3M263.5,241v2M263.5,253v1M264.5,239v2M264.5,252v1M267.5,250v1M272.5,247v1M273.5,248v1M274.5,249v1M277.5,251v1M278.5,252v1M279.5,253v1M280.5,254v1M293.5,246v1M294.5,247v1M295.5,248v2M296.5,250v1M297.5,251v1M298.5,252v2M299.5,254v1M315.5,242v5M316.5,247v6M317.5,242v1M318.5,243v2M319.5,245v1M320.5,246v1M321.5,247v1M322.5,248v1M323.5,249v1M324.5,250v1M325.5,251v2M326.5,253v1M327.5,254v1M328.5,255v1M334.5,245v2M335.5,247v2M336.5,249v2M337.5,251v2M338.5,246v1M338.5,253v2M345.5,250v1M350.5,253v1M354.5,246v1M355.5,247v1M356.5,248v2M357.5,250v1M358.5,251v1M359.5,252v2M360.5,254v1M375.5,245v2M376.5,247v2M377.5,249v2M378.5,251v2M379.5,246v1M379.5,253v2M386.5,250v1M391.5,253v1M396.5,250v1M399.5,239v2M399.5,252v1M400.5,241v2M400.5,253v1M401.5,243v3M402.5,246v3M403.5,249v2M403.5,255v1M404.5,251v3M405.5,254v1M406.5,257v1M407.5,251v4M408.5,247v4M409.5,245v2M416.5,240v1M417.5,241v1M418.5,242v1M419.5,243v2M420.5,245v1M421.5,246v1M422.5,247v1M423.5,248v1M424.5,249v1M425.5,250v1M426.5,251v2M427.5,253v1M428.5,243v6M429.5,249v5M442.5,254v1M444.5,241v1M445.5,242v1M446.5,243v1M447.5,244v1M448.5,245v1M449.5,246v1M450.5,247v1M451.5,248v1M455.5,246v1M456.5,247v1M457.5,248v2M458.5,250v1M459.5,251v1M460.5,252v2M461.5,254v1M476.5,245v2M477.5,247v2M478.5,249v2M479.5,251v2M480.5,246v1M480.5,253v2M487.5,250v1M492.5,253v1M495.5,246v1M496.5,247v1M497.5,248v2M498.5,250v1M499.5,251v1M500.5,252v2M501.5,254v1M516.5,245v2M517.5,247v2M518.5,249v2M519.5,251v2M520.5,246v1M520.5,253v2M527.5,250v1M532.5,253v1M538.5,242v5M539.5,247v6M540.5,242v2M541.5,244v1M542.5,245v1M543.5,246v1M544.5,247v2M545.5,249v1M546.5,250v1M547.5,251v1M548.5,252v2M549.5,254v1M550.5,255v1M558.5,249v1M559.5,250v1M560.5,251v1M561.5,252v1M562.5,253v1M563.5,238v4M563.5,254v1M564.5,242v6M564.5,255v1M565.5,248v6M566.5,257v1M568.5,252v2M569.5,250v2M570.5,248v2M571.5,246v2M579.5,251v1M580.5,239v1M581.5,240v2M582.5,242v2M583.5,244v2M584.5,246v2M585.5,248v2M586.5,250v2M587.5,252v2M589.5,253v1M590.5,247v6M591.5,244v3M596.5,247v1M597.5,248v1M598.5,249v1M601.5,251v1M602.5,252v1M603.5,253v1M604.5,254v1M619.5,242v5M620.5,247v6M621.5,242v2M622.5,244v1M623.5,245v1M624.5,246v1M625.5,247v2M626.5,249v1M627.5,250v1M628.5,251v1M629.5,252v2M630.5,254v1M631.5,255v1M638.5,245v2M639.5,247v2M640.5,249v2M641.5,251v2M642.5,246v1M642.5,253v2M649.5,250v1M654.5,253v1M657.5,246v1M658.5,247v1M659.5,248v2M660.5,250v1M661.5,251v1M662.5,252v2M663.5,254v1M678.5,245v2M679.5,247v2M680.5,249v2M681.5,251v2M682.5,246v1M682.5,253v2M689.5,250v1M694.5,253v1M698.5,246v1M699.5,247v1M700.5,248v2M701.5,250v1M702.5,251v1M703.5,252v2M704.5,254v1M719.5,248v1M720.5,249v1M721.5,250v2M722.5,252v1M723.5,253v1M724.5,254v2M726.5,238v18M726.5,257v1M728.5,254v2M729.5,253v1M730.5,252v1M731.5,250v2M732.5,249v1M733.5,248v1M740.5,240v1M741.5,241v1M742.5,242v1M743.5,243v2M744.5,245v1M745.5,246v1M746.5,247v1M747.5,248v1M748.5,249v1M749.5,250v1M750.5,251v2M751.5,253v1M752.5,243v6M753.5,249v5M760.5,249v1M761.5,250v1M762.5,251v1M763.5,252v1M765.5,238v3M766.5,241v5M766.5,254v1M767.5,246v4M767.5,255v1M768.5,250v5M769.5,257v1M770.5,254v1M771.5,252v2M772.5,250v2M773.5,248v2M774.5,246v2M780.5,245v2M781.5,247v2M782.5,249v2M783.5,251v2M784.5,246v1M784.5,253v2M791.5,250v1M796.5,253v1M800.5,243v1M801.5,244v4M802.5,243v1M802.5,248v4M803.5,252v2M805.5,245v1M806.5,246v1M807.5,247v1M808.5,248v1M809.5,249v1M810.5,250v1M813.5,252v1M814.5,253v1M815.5,254v1M820.5,245v2M821.5,247v2M822.5,249v2M823.5,251v2M824.5,246v1M824.5,253v2M831.5,250v1M836.5,253v1" stroke="#000" stroke-width="1" fill="none"/>
<rect x="180" y="50" width="1" height="404" fill="#000" />
<g opacity="0.999">
<text x="10" y="16" font-family="'DejaVu Sans Mono','Liberation Mono',monospace" font-size="11" fill="#000" text-anchor="start" font-weight="bold" textLength="721" lengthAdjust="spacingAndGlyphs" xml:space="preserve" style="white-space:pre" stroke="#000" stroke-width="0.18">Vorhersagediagramm für die Station Mosogno (TI) vom 03.11.2025 09:00 Uhr (alle Zeiten in MEZ)   (c) DTN</text>
<text x="10" y="71" font-family="'DejaVu Sans Mono','Liberation Mono',monospace" font-size="11" fill="#000" text-anchor="start" font-weight="bold" textLength="70" lengthAdjust="spacingAndGlyphs" xml:space="preserve" style="white-space:pre" stroke="#000" stroke-width="0.15">Temperatur</text>
<text x="10" y="91" font-family="'DejaVu Sans Mono','Liberation Mono',monospace" font-size="11" fill="#dd0000" text-anchor="start" font-weight="bold" textLength="126" lengthAdjust="spacingAndGlyphs" xml:space="preserve" style="white-space:pre" stroke="#dd0000" stroke-width="0.15">12-Stunden-Maximum</text>
<text x="10" y="111" font-family="'DejaVu Sans Mono','Liberation Mono',monospace" font-size="11" fill="#0000d8" text-anchor="start" font-weight="bold" textLength="126" lengthAdjust="spacingAndGlyphs" xml:space="preserve" style="white-space:pre" stroke="#0000d8" stroke-width="0.15">12-Stunden-Minimum</text>
<text x="120" y="141" font-family="'DejaVu Sans Mono','Liberation Mono',monospace" font-size="11" fill="#000" text-anchor="start" font-weight="bold" textLength="35" lengthAdjust="spacingAndGlyphs" xml:space="preserve" style="white-space:pre" stroke="#000" stroke-width="0.15">in °C</text>
<text x="10" y="186" font-family="'DejaVu Sans Mono','Liberation Mono',monospace" font-size="11" fill="#cc33cc" text-anchor="start" font-weight="bold" textLength="56" lengthAdjust="spacingAndGlyphs" xml:space="preserve" style="white-space:pre" stroke="#cc33cc" stroke-width="0.15">Windböen</text>
<text x="10" y="206" font-family="'DejaVu Sans Mono','Liberation Mono',monospace" font-size="11" fill="#808000" text-anchor="start" font-weight="bold" textLength="133" lengthAdjust="spacingAndGlyphs" xml:space="preserve" style="white-space:pre" stroke="#808000" stroke-width="0.15">Windgeschwindigkeit</text>
<text x="120" y="236" font-family="'DejaVu Sans Mono','Liberation Mono',monospace" font-size="11" fill="#000" text-anchor="start" font-weight="bold" textLength="49" lengthAdjust="spacingAndGlyphs" xml:space="preserve" style="white-space:pre" stroke="#000" stroke-width="0.15">in km/h</text>
<text x="10" y="254" font-family="'DejaVu Sans Mono','Liberation Mono',monospace" font-size="11" fill="#000" text-anchor="start" font-weight="bold" textLength="84" lengthAdjust="spacingAndGlyphs" xml:space="preserve" style="white-space:pre" stroke="#000" stroke-width="0.15">Windrichtung</text>
<text x="10" y="294" font-family="'DejaVu Sans Mono','Liberation Mono',monospace" font-size="11" fill="#008080" text-anchor="start" font-weight="bold" textLength="147" lengthAdjust="spacingAndGlyphs" xml:space="preserve" style="white-space:pre" stroke="#008080" stroke-width="0.15">rel. Luftfeuchtigkeit</text>
<text x="10" y="339" font-family="'DejaVu Sans Mono','Liberation Mono',monospace" font-size="11" fill="#e69800" text-anchor="start" font-weight="bold" textLength="105" lengthAdjust="spacingAndGlyphs" xml:space="preserve" style="white-space:pre" stroke="#e69800" stroke-width="0.15">Globalstrahlung</text>
<text x="10" y="349" font-family="'DejaVu Sans Mono','Liberation Mono',monospace" font-size="11" fill="#e69800" text-anchor="start" font-weight="bold" textLength="63" lengthAdjust="spacingAndGlyphs" xml:space="preserve" style="white-space:pre" stroke="#e69800" stroke-width="0.15">in Wh/m^2</text>
<text x="10" y="434" font-family="'DejaVu Sans Mono','Liberation Mono',monospace" font-size="11" fill="#0000ee" text-anchor="start" font-weight="bold" textLength="140" lengthAdjust="spacingAndGlyphs" xml:space="preserve" style="white-space:pre" stroke="#0000ee" stroke-width="0.15">Niederschlag 6h (mm)</text>
<text x="234 240 246 252 258 264 270 276 282 288 294 300 306" y="37" text-anchor="middle" font-family="'DejaVu Sans Mono','Liberation Mono',monospace" font-size="10.6" fill="#000" xml:space="preserve">Montag <tspan font-family="'Liberation Sans',sans-serif" font-size="11">0</tspan><tspan font-family="'Liberation Sans',sans-serif" font-size="11">3</tspan>.<tspan font-family="'Liberation Sans',sans-serif" font-size="11">1</tspan><tspan font-family="'Liberation Sans',sans-serif" font-size="11">1</tspan>.</text>
<text x="396 402 408 414 420 426 432 438 444 450 456 462 468 474 480" y="37" text-anchor="middle" font-family="'DejaVu Sans Mono','Liberation Mono',monospace" font-size="10.6" fill="#000" xml:space="preserve">Dienstag <tspan font-family="'Liberation Sans',sans-serif" font-size="11">0</tspan><tspan font-family="'Liberation Sans',sans-serif" font-size="11">4</tspan>.<tspan font-family="'Liberation Sans',sans-serif" font-size="11">1</tspan><tspan font-family="'Liberation Sans',sans-serif" font-size="11">1</tspan>.</text>
<text x="558 564 570 576 582 588 594 600 606 612 618 624 630 636 642" y="37" text-anchor="middle" font-family="'DejaVu Sans Mono','Liberation Mono',monospace" font-size="10.6" fill="#000" xml:space="preserve">Mittwoch <tspan font-family="'Liberation Sans',sans-serif" font-size="11">0</tspan><tspan font-family="'Liberation Sans',sans-serif" font-size="11">5</tspan>.<tspan font-family="'Liberation Sans',sans-serif" font-size="11">1</tspan><tspan font-family="'Liberation Sans',sans-serif" font-size="11">1</tspan>.</text>
<text x="720 726 732 738 744 750 756 762 768 774 780 786 792 798 804 810 816" y="37" text-anchor="middle" font-family="'DejaVu Sans Mono','Liberation Mono',monospace" font-size="10.6" fill="#000" xml:space="preserve">Donnerstag <tspan font-family="'Liberation Sans',sans-serif" font-size="11">0</tspan><tspan font-family="'Liberation Sans',sans-serif" font-size="11">6</tspan>.<tspan font-family="'Liberation Sans',sans-serif" font-size="11">1</tspan><tspan font-family="'Liberation Sans',sans-serif" font-size="11">1</tspan>.</text>
<text transform="scale(0.82,1)" x="217.07 223.17" y="47.6" text-anchor="middle" font-family="'Liberation Sans','DejaVu Sans',sans-serif" font-size="8.2" fill="#000" stroke="#000" stroke-width="0.3">01</text>
<text transform="scale(0.82,1)" x="267.07 273.17" y="47.6" text-anchor="middle" font-family="'Liberation Sans','DejaVu Sans',sans-serif" font-size="8.2" fill="#000" stroke="#000" stroke-width="0.3">07</text>
<text transform="scale(0.82,1)" x="315.85 321.95" y="47.6" text-anchor="middle" font-family="'Liberation Sans','DejaVu Sans',sans-serif" font-size="8.2" fill="#000" stroke="#000" stroke-width="0.3">13</text>
<text transform="scale(0.82,1)" x="365.85 371.95" y="47.6" text-anchor="middle" font-family="'Liberation Sans','DejaVu Sans',sans-serif" font-size="8.2" fill="#000" stroke="#000" stroke-width="0.3">19</text>
<text transform="scale(0.82,1)" x="414.63 420.73" y="47.6" text-anchor="middle" font-family="'Liberation Sans','DejaVu Sans',sans-serif" font-size="8.2" fill="#000" stroke="#000" stroke-width="0.3">01</text>
<text transform="scale(0.82,1)" x="464.63 470.73" y="47.6" text-anchor="middle" font-family="'Liberation Sans','DejaVu Sans',sans-serif" font-size="8.2" fill="#000" stroke="#000" stroke-width="0.3">07</text>
<text transform="scale(0.82,1)" x="513.41 519.51" y="47.6" text-anchor="middle" font-family="'Liberation Sans','DejaVu Sans',sans-serif" font-size="8.2" fill="#000" stroke="#000" stroke-width="0.3">13</text>
<text transform="scale(0.82,1)" x="563.41 569.51" y="47.6" text-anchor="middle" font-family="'Liberation Sans','DejaVu Sans',sans-serif" font-size="8.2" fill="#000" stroke="#000" stroke-width="0.3">19</text>
<text transform="scale(0.82,1)" x="612.20 618.29" y="47.6" text-anchor="middle" font-family="'Liberation Sans','DejaVu Sans',sans-serif" font-size="8.2" fill="#000" stroke="#000" stroke-width="0.3">01</text>
<text transform="scale(0.82,1)" x="662.20 668.29" y="47.6" text-anchor="middle" font-family="'Liberation Sans','DejaVu Sans',sans-serif" font-size="8.2" fill="#000" stroke="#000" stroke-width="0.3">07</text>
<text transform="scale(0.82,1)" x="710.98 717.07" y="47.6" text-anchor="middle" font-family="'Liberation Sans','DejaVu Sans',sans-serif" font-size="8.2" fill="#000" stroke="#000" stroke-width="0.3">13</text>
<text transform="scale(0.82,1)" x="760.98 767.07" y="47.6" text-anchor="middle" font-family="'Liberation Sans','DejaVu Sans',sans-serif" font-size="8.2" fill="#000" stroke="#000" stroke-width="0.3">19</text>
<text transform="scale(0.82,1)" x="809.76 815.85" y="47.6" text-anchor="middle" font-family="'Liberation Sans','DejaVu Sans',sans-serif" font-size="8.2" fill="#000" stroke="#000" stroke-width="0.3">01</text>
<text transform="scale(0.82,1)" x="859.76 865.85" y="47.6" text-anchor="middle" font-family="'Liberation Sans','DejaVu Sans',sans-serif" font-size="8.2" fill="#000" stroke="#000" stroke-width="0.3">07</text>
<text transform="scale(0.82,1)" x="908.54 914.63" y="47.6" text-anchor="middle" font-family="'Liberation Sans','DejaVu Sans',sans-serif" font-size="8.2" fill="#000" stroke="#000" stroke-width="0.3">13</text>
<text transform="scale(0.82,1)" x="958.54 964.63" y="47.6" text-anchor="middle" font-family="'Liberation Sans','DejaVu Sans',sans-serif" font-size="8.2" fill="#000" stroke="#000" stroke-width="0.3">19</text>
<text transform="scale(0.82,1)" x="1007.32 1013.41" y="47.6" text-anchor="middle" font-family="'Liberation Sans','DejaVu Sans',sans-serif" font-size="8.2" fill="#000" stroke="#000" stroke-width="0.3">01</text>
<text transform="scale(0.82,1)" x="202.44 208.54" y="71.7" text-anchor="middle" font-family="'Liberation Sans','DejaVu Sans',sans-serif" font-size="8.2" fill="#000" stroke="#000" stroke-width="0.3">15</text>
<text transform="scale(0.82,1)" x="202.44 208.54" y="94.7" text-anchor="middle" font-family="'Liberation Sans','DejaVu Sans',sans-serif" font-size="8.2" fill="#000" stroke="#000" stroke-width="0.3">10</text>
<text transform="scale(0.82,1)" x="208.54" y="117.7" text-anchor="middle" font-family="'Liberation Sans','DejaVu Sans',sans-serif" font-size="8.2" fill="#000" stroke="#000" stroke-width="0.3">5</text>
<text transform="scale(0.82,1)" x="208.54" y="139.7" text-anchor="middle" font-family="'Liberation Sans','DejaVu Sans',sans-serif" font-size="8.2" fill="#000" stroke="#000" stroke-width="0.3">0</text>
<text transform="scale(0.82,1)" x="202.44 208.54" y="158.7" text-anchor="middle" font-family="'Liberation Sans','DejaVu Sans',sans-serif" font-size="8.2" fill="#000" stroke="#000" stroke-width="0.3">20</text>
<text transform="scale(0.82,1)" x="202.44 208.54" y="194.7" text-anchor="middle" font-family="'Liberation Sans','DejaVu Sans',sans-serif" font-size="8.2" fill="#000" stroke="#000" stroke-width="0.3">10</text>
<text transform="scale(0.82,1)" x="208.54" y="231.7" text-anchor="middle" font-family="'Liberation Sans','DejaVu Sans',sans-serif" font-size="8.2" fill="#000" stroke="#000" stroke-width="0.3">0</text>
<text transform="scale(0.82,1)" x="201.22 207.32 213.41" y="266.7" text-anchor="middle" font-family="'Liberation Sans','DejaVu Sans',sans-serif" font-size="8.2" fill="#000" stroke="#000" stroke-width="0.3">100</text>
<text transform="scale(0.82,1)" x="201.22 207.32" y="278.7" text-anchor="middle" font-family="'Liberation Sans','DejaVu Sans',sans-serif" font-size="8.2" fill="#000" stroke="#000" stroke-width="0.3">80</text>
<text transform="scale(0.82,1)" x="201.22 207.32" y="291.7" text-anchor="middle" font-family="'Liberation Sans','DejaVu Sans',sans-serif" font-size="8.2" fill="#000" stroke="#000" stroke-width="0.3">60</text>
<text transform="scale(0.82,1)" x="201.22 207.32" y="303.7" text-anchor="middle" font-family="'Liberation Sans','DejaVu Sans',sans-serif" font-size="8.2" fill="#000" stroke="#000" stroke-width="0.3">40</text>
<text transform="scale(0.82,1)" x="201.22 207.32" y="315.7" text-anchor="middle" font-family="'Liberation Sans','DejaVu Sans',sans-serif" font-size="8.2" fill="#000" stroke="#000" stroke-width="0.3">20</text>
<text transform="scale(0.82,1)" x="195.12 201.22 207.32 213.41" y="321.7" text-anchor="middle" font-family="'Liberation Sans','DejaVu Sans',sans-serif" font-size="8.2" fill="#000" stroke="#000" stroke-width="0.3">1200</text>
<text transform="scale(0.82,1)" x="195.12 201.22 207.32" y="338.7" text-anchor="middle" font-family="'Liberation Sans','DejaVu Sans',sans-serif" font-size="8.2" fill="#000" stroke="#000" stroke-width="0.3">800</text>
<text transform="scale(0.82,1)" x="195.12 201.22 207.32" y="354.7" text-anchor="middle" font-family="'Liberation Sans','DejaVu Sans',sans-serif" font-size="8.2" fill="#000" stroke="#000" stroke-width="0.3">400</text>
<text transform="scale(0.82,1)" x="195.12" y="371.7" text-anchor="middle" font-family="'Liberation Sans','DejaVu Sans',sans-serif" font-size="8.2" fill="#000" stroke="#000" stroke-width="0.3">0</text>
<text transform="scale(0.82,1)" x="201.22" y="416.7" text-anchor="middle" font-family="'Liberation Sans','DejaVu Sans',sans-serif" font-size="8.2" fill="#000" stroke="#000" stroke-width="0.3">2</text>
<text transform="scale(0.82,1)" x="201.22" y="456.7" text-anchor="middle" font-family="'Liberation Sans','DejaVu Sans',sans-serif" font-size="8.2" fill="#000" stroke="#000" stroke-width="0.3">0</text>
<text transform="scale(0.82,1)" x="239.02" y="448.2" text-anchor="middle" font-family="'Liberation Sans','DejaVu Sans',sans-serif" font-size="8.2" fill="#000" stroke="#000" stroke-width="0.3">0</text>
<text transform="scale(0.82,1)" x="288.41" y="448.2" text-anchor="middle" font-family="'Liberation Sans','DejaVu Sans',sans-serif" font-size="8.2" fill="#000" stroke="#000" stroke-width="0.3">0</text>
<text transform="scale(0.82,1)" x="337.80" y="448.2" text-anchor="middle" font-family="'Liberation Sans','DejaVu Sans',sans-serif" font-size="8.2" fill="#000" stroke="#000" stroke-width="0.3">0</text>
<text transform="scale(0.82,1)" x="387.20" y="448.2" text-anchor="middle" font-family="'Liberation Sans','DejaVu Sans',sans-serif" font-size="8.2" fill="#000" stroke="#000" stroke-width="0.3">0</text>
<text transform="scale(0.82,1)" x="436.59" y="448.2" text-anchor="middle" font-family="'Liberation Sans','DejaVu Sans',sans-serif" font-size="8.2" fill="#000" stroke="#000" stroke-width="0.3">0</text>
<text transform="scale(0.82,1)" x="485.98" y="448.2" text-anchor="middle" font-family="'Liberation Sans','DejaVu Sans',sans-serif" font-size="8.2" fill="#000" stroke="#000" stroke-width="0.3">0</text>
<text transform="scale(0.82,1)" x="535.37" y="448.2" text-anchor="middle" font-family="'Liberation Sans','DejaVu Sans',sans-serif" font-size="8.2" fill="#000" stroke="#000" stroke-width="0.3">0</text>
<text transform="scale(0.82,1)" x="584.76" y="448.2" text-anchor="middle" font-family="'Liberation Sans','DejaVu Sans',sans-serif" font-size="8.2" fill="#000" stroke="#000" stroke-width="0.3">0</text>
<text transform="scale(0.82,1)" x="634.15" y="448.2" text-anchor="middle" font-family="'Liberation Sans','DejaVu Sans',sans-serif" font-size="8.2" fill="#000" stroke="#000" stroke-width="0.3">0</text>
<text transform="scale(0.82,1)" x="683.54" y="448.2" text-anchor="middle" font-family="'Liberation Sans','DejaVu Sans',sans-serif" font-size="8.2" fill="#000" stroke="#000" stroke-width="0.3">0</text>
<text transform="scale(0.82,1)" x="732.93" y="448.2" text-anchor="middle" font-family="'Liberation Sans','DejaVu Sans',sans-serif" font-size="8.2" fill="#000" stroke="#000" stroke-width="0.3">0</text>
<text transform="scale(0.82,1)" x="782.32" y="448.2" text-anchor="middle" font-family="'Liberation Sans','DejaVu Sans',sans-serif" font-size="8.2" fill="#000" stroke="#000" stroke-width="0.3">0</text>
<text transform="scale(0.82,1)" x="831.71" y="448.2" text-anchor="middle" font-family="'Liberation Sans','DejaVu Sans',sans-serif" font-size="8.2" fill="#000" stroke="#000" stroke-width="0.3">0</text>
<text transform="scale(0.82,1)" x="881.10" y="448.2" text-anchor="middle" font-family="'Liberation Sans','DejaVu Sans',sans-serif" font-size="8.2" fill="#000" stroke="#000" stroke-width="0.3">0</text>
<text transform="scale(0.82,1)" x="930.49" y="448.2" text-anchor="middle" font-family="'Liberation Sans','DejaVu Sans',sans-serif" font-size="8.2" fill="#000" stroke="#000" stroke-width="0.3">0</text>
<text transform="scale(0.82,1)" x="979.88" y="448.2" text-anchor="middle" font-family="'Liberation Sans','DejaVu Sans',sans-serif" font-size="8.2" fill="#000" stroke="#000" stroke-width="0.3">0</text>
</g>
<g shape-rendering="geometricPrecision" opacity="0.999">
<text x="677.5" y="500.3" font-family="'Liberation Sans','DejaVu Sans',sans-serif" font-size="12.25" fill="#727272" text-anchor="start" xml:space="preserve" style="white-space:pre" >powered by</text>
<path fill="#0b0b0b" fill-rule="evenodd" d="M750.4,473 H762.7 A12.7,14.45 0 0 1 762.7,501.9 H750.4 Q749,501.9 749,500.5 V474.4 Q749,473 750.4,473 Z M756.1,479.8 V495.3 H762.4 A6.1,7.75 0 0 0 762.4,479.8 Z"/>
<path fill="#0b0b0b" d="M777,473 H799.6 Q800.4,473 800.4,473.8 V479 Q800.4,479.8 799.6,479.8 H791.8 V501.1 Q791.8,501.9 791,501.9 H785.3 Q784.5,501.9 784.5,501.1 V479.8 H777 Q776.2,479.8 776.2,479 V473.8 Q776.2,473 777,473 Z"/>
<path fill="#0b0b0b" d="M804.4,501.9 Q803.6,501.9 803.6,501.1 V473.8 Q803.6,473 804.4,473 H818.6 A11.4,12.6 0 0 1 830,485.6 V501.1 Q830,501.9 829.2,501.9 H823.6 Q822.8,501.9 822.8,501.1 V486.2 A6.05,6.4 0 0 0 810.7,486.2 V501.1 Q810.7,501.9 809.9,501.9 Z"/>
<path fill="#1590d8" d="M831.5,473 A7.8,7.8 0 0 1 847.1,473 H842.6 A3.3,3.3 0 0 0 836,473 Z"/>
<path fill="#5aaa1f" d="M831.5,473 A7.8,7.8 0 0 0 847.1,473 H842.6 A3.3,3.3 0 0 1 836,473 Z"/>
</g>
<rect x="0" y="523" width="850" height="1" fill="#ebebeb" />
</svg>
</body></html>
